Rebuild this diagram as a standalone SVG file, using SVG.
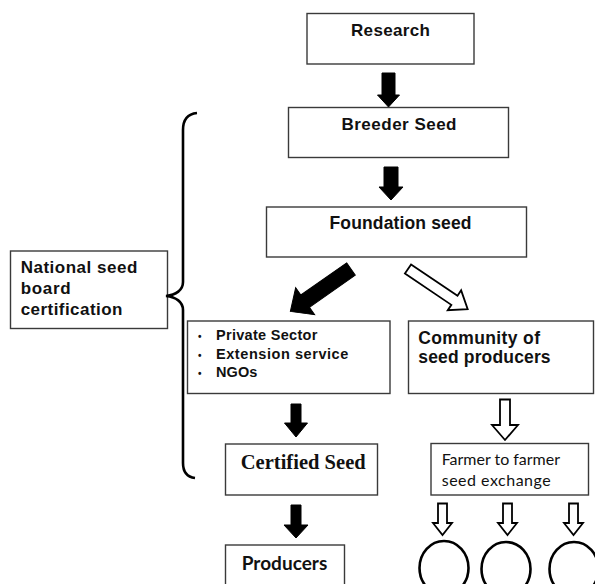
<svg xmlns="http://www.w3.org/2000/svg" width="595" height="584" viewBox="0 0 595 584">
<style>
.box{fill:#fff;stroke:#3a3a3a;stroke-width:1.4}
.t{font-family:"Liberation Sans",Arial,sans-serif;font-weight:bold;fill:#111}
.tm{font-family:"Liberation Serif","Times New Roman",serif;font-weight:bold;fill:#111}
.tc{font-family:Lato,"Open Sans",sans-serif;fill:#111}
.solid{fill:#000;stroke:#000;stroke-width:1}
.hollow{fill:#fff;stroke:#000;stroke-width:1.8;stroke-linejoin:miter}
.brace{fill:none;stroke:#000;stroke-width:2.6}
.circ{fill:#fff;stroke:#000;stroke-width:2.6}
</style>
<rect width="595" height="584" fill="#fff"/>
<g id="research"><rect class="box" x="307" y="13.5" width="167" height="50.5"/><text class="t" x="390.5" y="36" font-size="17" text-anchor="middle" textLength="79">Research</text></g>
<g id="breeder"><rect class="box" x="288.5" y="107.5" width="220" height="50"/><text class="t" x="399" y="129.5" font-size="17" text-anchor="middle" textLength="115">Breeder Seed</text></g>
<g id="foundation"><rect class="box" x="266.5" y="207" width="260" height="50"/><text class="t" x="400.5" y="228.5" font-size="17.5" text-anchor="middle" textLength="142">Foundation seed</text></g>
<g id="national"><rect class="box" x="10.5" y="251" width="157" height="77.5"/><text class="t" font-size="17"><tspan x="20.7" y="273" textLength="116.6">National seed</tspan><tspan x="20.7" y="294" textLength="50">board</tspan><tspan x="20.7" y="315" textLength="101.7">certification</tspan></text></g>
<g id="private"><rect class="box" x="187.5" y="321" width="202.5" height="72.5"/><text class="t" font-size="14.5"><tspan x="198" y="340" font-size="10">•</tspan><tspan x="216" y="340" textLength="101.3">Private Sector</tspan><tspan x="198" y="358.5" font-size="10">•</tspan><tspan x="216" y="358.5" textLength="132.3">Extension service</tspan><tspan x="198" y="377" font-size="10">•</tspan><tspan x="216" y="377" textLength="41.3">NGOs</tspan></text></g>
<g id="community"><rect class="box" x="408.5" y="321" width="185" height="72.5"/><text class="t" font-size="17.5"><tspan x="418.3" y="343.5" textLength="121.7">Community of</tspan><tspan x="418.3" y="363" textLength="132.3">seed producers</tspan></text></g>
<g id="certified"><rect class="box" x="225.5" y="444" width="152" height="51"/><text class="tm" x="240.7" y="469" font-size="20.5" textLength="125">Certified Seed</text></g>
<g id="farmer"><rect class="box" x="431" y="443.5" width="157.5" height="51.5"/><text class="tc" font-size="16"><tspan x="441.7" y="465" textLength="118.3">Farmer to farmer</tspan><tspan x="441.7" y="486" textLength="109">seed exchange</tspan></text></g>
<g id="producers"><rect class="box" x="225.5" y="545" width="119" height="45"/><text class="tc" x="241.7" y="570" font-size="19" font-weight="bold" textLength="85.6">Producers</text></g>
<g id="circle1"><ellipse class="circ" cx="444" cy="568" rx="24.5" ry="27"/></g>
<g id="circle2"><ellipse class="circ" cx="506" cy="569" rx="24.5" ry="27"/></g>
<g id="circle3"><ellipse class="circ" cx="574" cy="569" rx="24.5" ry="27"/></g>
<g id="connectors">
<path class="brace" d="M197,113 C187,114 183,120 183,130 L183,282 C183,290 176,295 166,296 C176,297 183,302 183,310 L183,463 C183,472 187,477 195,478"/>
<polygon class="solid" points="382,73 395,73 395,95 399.5,95 388.5,107 377.5,95 382,95"/>
<polygon class="solid" points="384,167 398,167 398,187 403,187 391,200 379,187 384,187"/>
<polygon class="solid" points="291,404 301,404 301,423 307.5,423 296,437 284.5,423 291,423"/>
<polygon class="solid" points="291,505 301,505 301,525 308,525 296,538 284,525 291,525"/>
<path class="solid" transform="translate(351,269) rotate(145)" d="M0,-7.5 L56,-7.5 L56,-16.5 L74,0 L56,16.5 L56,7.5 L0,7.5 Z"/>
<path class="hollow" transform="translate(408,269) rotate(34)" d="M0,-5.5 L56,-5.5 L56,-12 L72,0 L56,12 L56,5.5 L0,5.5 Z"/>
<polygon class="hollow" points="500,399.5 510,399.5 510,425 518,425 505,440 492,425 500,425"/>
<polygon class="hollow" points="438,503.5 447,503.5 447,523 452,523 442.5,535 433,523 438,523"/>
<polygon class="hollow" points="503,503.5 512,503.5 512,523 517,523 507.5,535 498,523 503,523"/>
<polygon class="hollow" points="569,503.5 578,503.5 578,523 583,523 573.5,535 564,523 569,523"/>
</g>
</svg>
